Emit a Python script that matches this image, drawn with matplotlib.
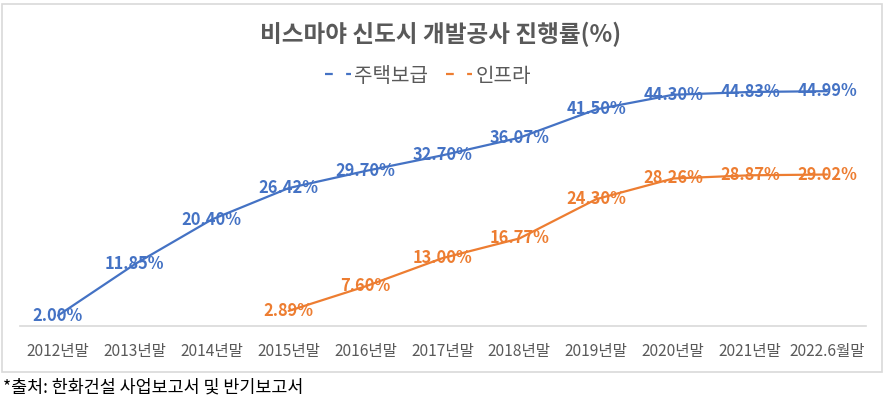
import matplotlib
matplotlib.use('Agg')
import matplotlib.pyplot as plt
from matplotlib.lines import Line2D
from matplotlib.patches import Rectangle

plt.rcParams['font.family'] = ['Noto Sans CJK KR', 'DejaVu Sans']

# 데이터
categories = ['2012년말', '2013년말', '2014년말', '2015년말', '2016년말', '2017년말',
              '2018년말', '2019년말', '2020년말', '2021년말', '2022.6월말']
housing = [2.00, 11.85, 20.40, 26.42, 29.70, 32.70, 36.07, 41.50, 44.30, 44.83, 44.99]
infra_start = 3
infra = [2.89, 7.60, 13.00, 16.77, 24.30, 28.26, 28.87, 29.02]

BLUE = '#4472C4'
ORANGE = '#ED7D31'
GRAY = '#595959'

W, H = 885, 404
fig = plt.figure(figsize=(W / 100, H / 100), dpi=100)

# 차트 테두리
fig.patches.append(Rectangle((1.5 / W, 1 - 372 / H), (882 - 1.5) / W, (372 - 4) / H,
                             transform=fig.transFigure, fill=False,
                             edgecolor='#D9D9D9', linewidth=1.2))

ax = fig.add_axes([19.5 / W, 1 - 326 / H, 846 / W, (326 - 65) / H])

x_h = list(range(len(housing)))
x_i = list(range(infra_start, infra_start + len(infra)))

ax.plot(x_h, housing, color=BLUE, linewidth=1.6, solid_capstyle='round')
ax.plot(x_i, infra, color=ORANGE, linewidth=1.6, solid_capstyle='round')

for x, v in zip(x_h, housing):
    ax.text(x, v, f'{v:.2f}%', color=BLUE, fontsize=11.8, fontweight='bold',
            ha='center', va='center')
for x, v in zip(x_i, infra):
    ax.text(x, v, f'{v:.2f}%', color=ORANGE, fontsize=11.8, fontweight='bold',
            ha='center', va='center')

ax.set_xlim(-0.5, len(categories) - 0.5)
ax.set_ylim(0, 50)
ax.set_xticks(range(len(categories)))
ax.set_xticklabels(categories, fontsize=11.2, color=GRAY)
ax.tick_params(axis='x', length=0, pad=12)
ax.set_yticks([])
for s in ['top', 'right', 'left']:
    ax.spines[s].set_visible(False)
ax.spines['bottom'].set_color('#D9D9D9')
ax.spines['bottom'].set_linewidth(1.2)

fig.text(441 / W, 1 - 34 / H, '비스마야 신도시 개발공사 진행률(%)', ha='center', va='center',
         fontsize=17, fontweight='bold', color=GRAY)

handles = [Line2D([0], [0], color=BLUE, linewidth=1.6, dashes=(3.5, 6)),
           Line2D([0], [0], color=ORANGE, linewidth=1.6, dashes=(3.5, 6))]
leg = fig.legend(handles, ['주택보급', '인프라'], loc='center', ncol=2,
                 bbox_to_anchor=(428 / W, 1 - 76 / H), frameon=False,
                 fontsize=14.5, handlelength=1.3, handletextpad=0.15, columnspacing=0.9)
for t in leg.get_texts():
    t.set_color(GRAY)

fig.text(3 / W, 1 - 388 / H, '*출처: 한화건설 사업보고서 및 반기보고서', ha='left', va='center',
         fontsize=12.5, color='black')

fig.savefig('out.png', dpi=100, facecolor='white')
